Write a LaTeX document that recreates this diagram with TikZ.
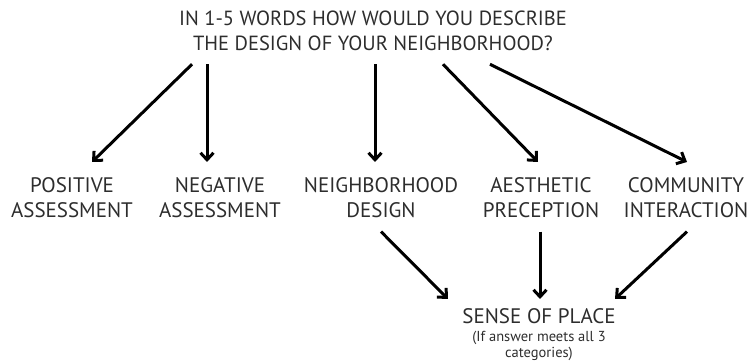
\documentclass[tikz,border=0pt]{standalone}
\usepackage{fontspec}
\setmainfont{PT Sans}
\usetikzlibrary{arrows.meta,positioning}
\definecolor{ink}{RGB}{45,45,45}
\tikzset{
  cat/.style={font=\fontsize{21}{25}\selectfont,text=ink,align=center,inner sep=0pt,anchor=north},
  arr/.style={-{Straight Barb[length=7pt,width=13pt]},line width=3pt,black},
}

\begin{document}
\begin{tikzpicture}[x=1pt,y=-1pt]
    \useasboundingbox (0,0) rectangle (750,363);
    \node[cat,font=\fontsize{20.5}{25}\selectfont] (q) at (373,11) {IN 1-5 WORDS HOW WOULD YOU DESCRIBE\\THE DESIGN OF YOUR NEIGHBORHOOD?};
    \node[cat] (pos) at (72,177) {POSITIVE\\ASSESSMENT};
    \node[cat] (neg) at (220,177) {NEGATIVE\\ASSESSMENT};
    \node[cat] (nbd) at (381,177) {NEIGHBORHOOD\\DESIGN};
    \node[cat] (aes) at (541,177) {AESTHETIC\\PRECEPTION};
    \node[cat] (com) at (686,177) {COMMUNITY\\INTERACTION};
    \node[cat] (place) at (539,308) {SENSE OF PLACE};
    \node[cat,font=\fontsize{14.5}{16.5}\selectfont,below=7pt of place] (note) {(If answer meets all 3\\categories)};
    % question to categories
    \draw[arr] ([xshift=-181pt,yshift=-13pt]q.south) -- ([xshift=20pt,yshift=15pt]pos.north);
    \draw[arr] ([xshift=-166pt,yshift=-13pt]q.south) -- ([xshift=-13pt,yshift=15pt]neg.north);
    \draw[arr] ([xshift=2pt,yshift=-13pt]q.south) -- ([xshift=-6pt,yshift=15pt]nbd.north);
    \draw[arr] ([xshift=70pt,yshift=-13pt]q.south) -- ([xshift=-3pt,yshift=15pt]aes.north);
    \draw[arr] ([xshift=117pt,yshift=-13pt]q.south) -- ([xshift=1pt,yshift=15pt]com.north);
    % categories to sense of place
    \draw[arr] ([yshift=-14pt]nbd.south) -- ([xshift=-91pt,yshift=9pt]place.north);
    \draw[arr] ([xshift=-1pt,yshift=-14pt]aes.south) -- ([xshift=1pt,yshift=9pt]place.north);
    \draw[arr] ([xshift=1pt,yshift=-14pt]com.south) -- ([xshift=76pt,yshift=9pt]place.north);
\end{tikzpicture}
\end{document}
